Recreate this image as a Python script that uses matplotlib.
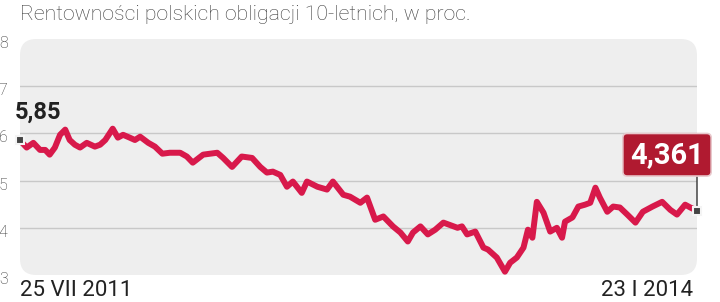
import numpy as np
import pandas as pd
from matplotlib import pyplot as plt
from matplotlib.patches import FancyBboxPatch
from matplotlib import transforms


# Yield of Polish 10-year bonds (days since 25 VII 2011)
start_date = pd.Timestamp('2011-07-25')
end_date = pd.Timestamp('2014-01-23')
day_offsets = [0, 9, 18, 27, 34, 40, 47, 54, 61, 67, 74, 81, 90, 101, 108, 115,
               125, 132, 139, 148, 155, 162, 173, 182, 192, 202, 216, 225, 233,
               247, 266, 274, 286, 299, 313, 324, 333, 341, 351, 360, 368, 380,
               387, 401, 414, 422, 436, 445, 459, 468, 479, 490, 503, 513, 523,
               530, 540, 550, 560, 571, 590, 596, 603, 614, 625, 631, 643, 654,
               661, 670, 679, 685, 691, 697, 706, 715, 724, 731, 735, 745, 753,
               762, 769, 776, 782, 792, 800, 809, 819, 830, 840, 853, 866, 877,
               886, 897, 904, 913]
yields = [5.85, 5.70, 5.80, 5.65, 5.65, 5.55, 5.70, 5.97, 6.08, 5.86, 5.76, 5.70,
          5.80, 5.72, 5.76, 5.86, 6.10, 5.91, 5.97, 5.91, 5.86, 5.93, 5.80, 5.72,
          5.57, 5.59, 5.59, 5.51, 5.38, 5.55, 5.59, 5.48, 5.29, 5.51, 5.48, 5.29,
          5.17, 5.19, 5.12, 4.87, 4.98, 4.74, 4.98, 4.87, 4.81, 4.98, 4.70, 4.66,
          4.53, 4.64, 4.17, 4.24, 4.03, 3.90, 3.71, 3.90, 4.03, 3.86, 3.96, 4.11,
          4.00, 4.03, 3.86, 3.92, 3.58, 3.54, 3.37, 3.07, 3.26, 3.37, 3.58, 3.96,
          3.79, 4.55, 4.32, 3.92, 4.00, 3.79, 4.13, 4.22, 4.45, 4.49, 4.53, 4.85,
          4.64, 4.34, 4.45, 4.43, 4.28, 4.11, 4.34, 4.45, 4.55, 4.38, 4.28, 4.49,
          4.43, 4.361]
y_ticks = [3, 4, 5, 6, 7, 8]
title = 'Rentowności polskich obligacji 10-letnich, w proc.'
first_label = '5,85'
last_label = '4,361'
start_label = '25 VII 2011'
end_label = '23 I 2014'

dates = start_date + pd.to_timedelta(day_offsets, unit='D')

line_color = '#d8194b'
box_color = '#b01a30'

plt.rcParams['font.family'] = ['Roboto', 'DejaVu Sans']

fig = plt.figure(figsize=(7.2, 3.02), dpi=100)
ax = fig.add_axes([20 / 720, 1 - 275 / 302, 677 / 720, 236 / 302])
ax.set_facecolor('none')

# rounded grey background
bg = FancyBboxPatch((0, 0), 1, 1, boxstyle='round,pad=0,rounding_size=0.024',
                    mutation_aspect=2.87, transform=ax.transAxes,
                    facecolor='#eeeeee', edgecolor='none', zorder=0)
ax.add_patch(bg)

ax.set_xlim(start_date, end_date)
ax.set_ylim(3, 8)
ax.set_yticks(y_ticks)
ax.set_yticklabels([str(t) for t in y_ticks])
ax.set_xticks([])
ax.tick_params(axis='y', length=0, pad=9, labelsize=11.5, labelcolor='#333333')
for lab in ax.get_yticklabels():
    lab.set_fontweight('light')
    lab.set_transform(lab.get_transform() +
                      transforms.ScaledTranslation(0, -3 / 100, fig.dpi_scale_trans))
for s in ax.spines.values():
    s.set_visible(False)

for t in y_ticks[1:-1]:
    ax.axhline(t, color='#c8c8c8', lw=1, zorder=1)

ax.plot(dates, yields, color=line_color, lw=4.3, solid_joinstyle='round',
        solid_capstyle='round', zorder=3, clip_on=False)

# end markers
for d, v in [(dates[0], yields[0]), (dates[-1], yields[-1])]:
    ax.plot(d, v, marker='s', ms=6, mfc='#444444', mec='#f4f4f4', mew=1.5,
            zorder=5, clip_on=False)

ax.annotate(first_label, xy=(dates[0], yields[0]), xytext=(-5, 28),
            textcoords='offset pixels', ha='left', va='center',
            fontsize=17, fontweight='bold', color='#222222')

# connector from last point up to the value box
ax.annotate('', xy=(dates[-1], yields[-1]), xytext=(0, 37),
            textcoords='offset pixels',
            arrowprops=dict(arrowstyle='-', color='#333333', lw=1,
                            shrinkA=0, shrinkB=3), zorder=4)

ax.annotate(last_label, xy=(dates[-1], yields[-1]), xytext=(-30, 56),
            textcoords='offset pixels', ha='center', va='center',
            fontsize=21, fontweight='bold', color='white', zorder=6,
            bbox=dict(boxstyle='round,pad=0.25,rounding_size=0.15',
                      facecolor=box_color, edgecolor='#e8c8cc', lw=1.2))

ax.annotate(start_label, xy=(0, 0), xycoords='axes fraction', xytext=(0, -15),
            textcoords='offset pixels', ha='left', va='center',
            fontsize=16, color='#222222')
ax.annotate(end_label, xy=(1, 0), xycoords='axes fraction', xytext=(-4, -15),
            textcoords='offset pixels', ha='right', va='center',
            fontsize=16, color='#222222')

fig.text(20 / 720, 1 - 14 / 302, title, ha='left', va='center',
         fontsize=15.3, fontweight='light', color='#3c3c3c')

fig.savefig('out.png', dpi=100)
